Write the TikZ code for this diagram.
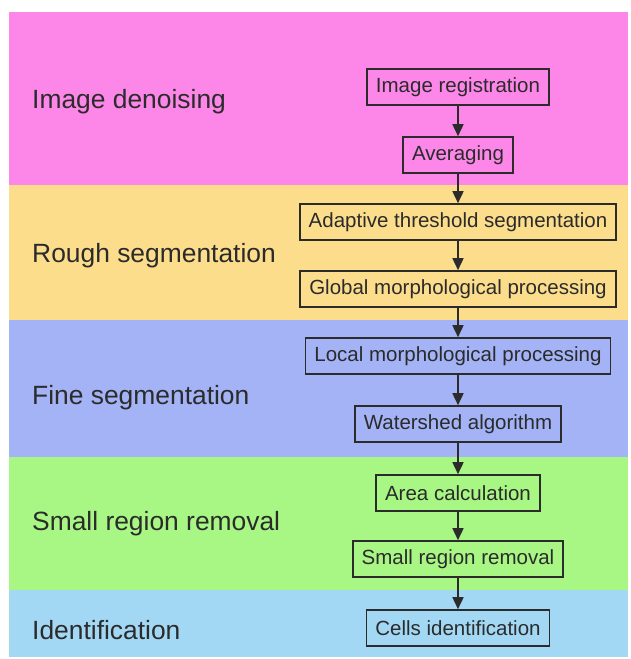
\documentclass[tikz,border=0pt]{standalone}
\usepackage{fontspec}
\setmainfont{Liberation Sans}
\usetikzlibrary{arrows.meta, positioning}

\definecolor{bandpink}{HTML}{FD87E8}
\definecolor{bandyellow}{HTML}{FBDD8C}
\definecolor{bandblue}{HTML}{A3B3F5}
\definecolor{bandgreen}{HTML}{A8F784}
\definecolor{bandcyan}{HTML}{A3D8F5}
\definecolor{ink}{HTML}{2B2B2B}

\begin{document}
\begin{tikzpicture}[x=1pt, y=-1pt]
\tikzstyle{box} = [rectangle, draw=ink, line width=1.6pt, minimum height=36pt, inner xsep=9pt, text=ink, font=\fontsize{20.5}{24}\selectfont]
\tikzstyle{stage} = [anchor=west, text=ink, inner sep=0pt, font=\fontsize{26.4}{30}\selectfont]
\tikzstyle{arrow} = [draw=ink, line width=1.6pt, -{Triangle[width=11pt,length=12pt]}]

\useasboundingbox (0,0) rectangle (631,659);

% coloured bands
\fill[bandpink] (9,12) rectangle (628,185);
\fill[bandyellow] (9,185) rectangle (628,320);
\fill[bandblue] (9,320) rectangle (628,457);
\fill[bandgreen] (9,457) rectangle (628,590);
\fill[bandcyan] (9,590) rectangle (628,657);

% stage names
\node[stage] (denoise) at (32,102) {Image denoising};
\node[stage] (rough) at (32,256) {Rough segmentation};
\node[stage] (fine) at (32,398) {Fine segmentation};
\node[stage] (removal) at (32,524) {Small region removal};
\node[stage] (ident) at (32,630) {Identification};

% processing steps
\node[box] (registration) at (458,87) {Image registration};
\node[box] (averaging) at (458,155) {Averaging};
\node[box] (adaptive) at (458,222) {Adaptive threshold segmentation};
\node[box] (global) at (458,289) {Global morphological processing};
\node[box] (local) at (458,356) {Local morphological processing};
\node[box] (watershed) at (458,424) {Watershed algorithm};
\node[box] (area) at (458,493) {Area calculation};
\node[box] (small) at (458,559) {Small region removal};
\node[box] (cells) at (458,628) {Cells identification};

\draw[arrow] (registration) -- (averaging);
\draw[arrow] (averaging) -- (adaptive);
\draw[arrow] (adaptive) -- (global);
\draw[arrow] (global) -- (local);
\draw[arrow] (local) -- (watershed);
\draw[arrow] (watershed) -- (area);
\draw[arrow] (area) -- (small);
\draw[arrow] (small) -- (cells);
\end{tikzpicture}
\end{document}
